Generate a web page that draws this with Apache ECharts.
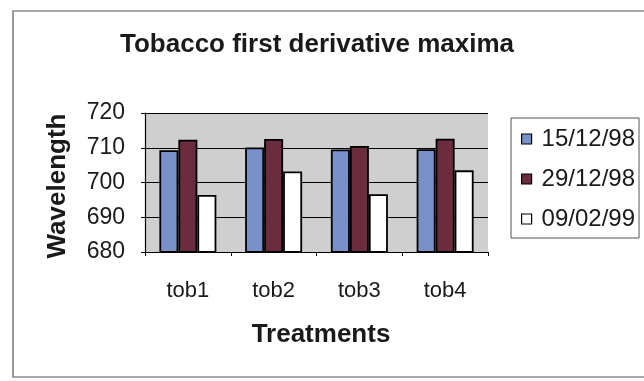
<!DOCTYPE html>
<html>
<head>
<meta charset="utf-8">
<script src="https://cdn.jsdelivr.net/npm/echarts@6/dist/echarts.min.js"></script>
<style>
  html, body { margin: 0; padding: 0; background: #ffffff; }
  #chart { width: 644px; height: 381px; }
</style>
</head>
<body>
<div id="chart"></div>
<script>
// Treatments along the category axis
const treatments = ['tob1', 'tob2', 'tob3', 'tob4'];
// Measurement dates (one series each)
const dates = ['15/12/98', '29/12/98', '09/02/99'];
// Wavelength of the first derivative maximum (nm)
const wl_151298 = [709.3, 710.1, 709.5, 709.6];
const wl_291298 = [712.3, 712.5, 710.5, 712.6];
const wl_090299 = [696.4, 703.2, 696.6, 703.5];
// Value axis ticks
const yTicks = [680, 690, 700, 710, 720];

const FONT = '"Liberation Sans", Arial, sans-serif';
const INK = '#1a1a1a';
const colors = ['#7a90c8', '#6b2d3d', '#ffffff'];
const values = [wl_151298, wl_291298, wl_090299];

const chart = echarts.init(document.getElementById('chart'), null, { renderer: 'canvas' });

const grid = { left: 145, top: 113, width: 343, height: 139 };

chart.setOption({
  animation: false,
  backgroundColor: '#ffffff',
  textStyle: { fontFamily: FONT, color: INK },
  grid: Object.assign({ show: true, backgroundColor: '#cfcfcf', borderWidth: 0 }, grid),
  graphic: [
    // outer chart frame
    { type: 'rect', shape: { x: 13, y: 11, width: 660, height: 366 },
      style: { fill: 'none', stroke: '#555', lineWidth: 1.2 }, z: 0 },
    { type: 'text', x: 317, y: 45,
      style: { text: 'Tobacco first derivative maxima', font: 'bold 26px ' + FONT,
               fill: INK, textAlign: 'center', textVerticalAlign: 'middle' } },
    { type: 'text', x: 58, y: 186, rotation: Math.PI / 2,
      style: { text: 'Wavelength', font: 'bold 26px ' + FONT,
               fill: INK, textAlign: 'center', textVerticalAlign: 'middle' } },
    { type: 'text', x: 321, y: 335,
      style: { text: 'Treatments', font: 'bold 26px ' + FONT,
               fill: INK, textAlign: 'center', textVerticalAlign: 'middle' } }
  ],
  legend: {
    orient: 'vertical',
    left: 511, top: 118,
    padding: [9, 4, 7, 10],
    borderColor: '#555', borderWidth: 1,
    itemWidth: 10, itemHeight: 10, itemGap: 16,
    icon: 'rect',
    itemStyle: { borderColor: '#000', borderWidth: 1.2 },
    textStyle: { fontSize: 24, fontFamily: FONT, color: INK, padding: [0, 0, 0, 5] },
    data: dates
  },
  xAxis: {
    type: 'category',
    data: treatments,
    axisLine: { lineStyle: { color: '#000', width: 1.2 } },
    axisTick: { show: true, length: 4, lineStyle: { color: '#000' } },
    axisLabel: { fontSize: 22, color: INK, margin: 28, fontFamily: FONT },
    splitLine: { show: false }
  },
  yAxis: {
    type: 'value',
    min: yTicks[0], max: yTicks[yTicks.length - 1], interval: 10,
    axisLine: { show: true, lineStyle: { color: '#000', width: 1.2 } },
    axisTick: { show: true, length: 4, lineStyle: { color: '#000' } },
    axisLabel: { fontSize: 23, color: INK, margin: 20, fontFamily: FONT },
    splitLine: { show: true, lineStyle: { color: '#000', width: 1 } }
  },
  series: dates.map((d, i) => ({
    name: d,
    type: 'bar',
    data: values[i],
    barWidth: 19,
    barGap: '0%',
    itemStyle: { color: colors[i], borderColor: '#000', borderWidth: 1.8 }
  }))
});
</script>
</body>
</html>
